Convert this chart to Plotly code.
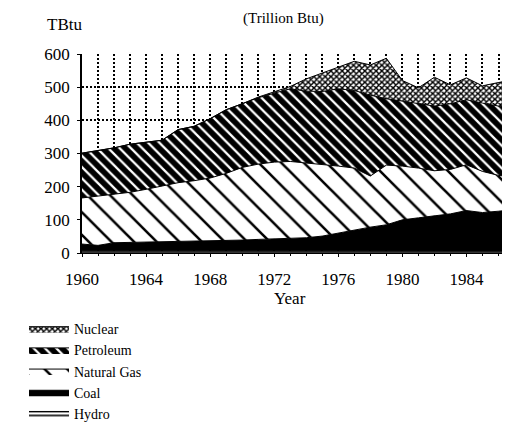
import plotly.graph_objects as go

years = list(range(1960, 1988))
hydro = [7, 7, 7, 8, 7, 7, 8, 8, 7, 8, 8, 8, 8, 8, 8, 8, 7, 6, 8, 8, 7, 7, 8, 7, 8, 7, 7, 6]
coal = [20, 16, 24, 24, 25, 25, 25, 26, 29, 29, 31, 33, 34, 37, 38, 43, 53, 65, 70, 77,
        93, 99, 104, 111, 120, 115, 119, 125]
natural_gas = [139, 149, 146, 151, 160, 170, 179, 184, 190, 203, 219, 227, 232, 231, 226, 217,
               202, 185, 154, 180, 162, 150, 136, 134, 138, 124, 108, 97]
petroleum = [135, 136, 140, 145, 143, 138, 160, 164, 179, 192, 192, 200, 208, 219, 216, 219,
             233, 234, 244, 200, 196, 194, 195, 198, 196, 206, 209, 210]
nuclear = [0, 0, 0, 0, 0, 0, 0, 0, 0, 0, 0, 2, 4, 7, 37, 55, 65, 88, 91, 122,
           62, 48, 87, 57, 66, 52, 71, 85]

x_ticks = [1960, 1964, 1968, 1972, 1976, 1980, 1984]
y_ticks = [0, 100, 200, 300, 400, 500, 600]

W, H = 510, 424
L, R, T, B = 74, 507, 46, 258
FONT = "Liberation Serif"

def px_x(p):
    return (p - L) / (R - L)

def px_y(p):
    return (B - p) / (B - T)

series = [
    ("Hydro", hydro, dict(shape="-", bgcolor="white", fgcolor="black", size=4, solidity=0.4)),
    ("Coal", coal, None),
    ("Natural Gas", natural_gas, dict(shape="\\", bgcolor="white", fgcolor="black", size=16, solidity=0.16)),
    ("Petroleum", petroleum, dict(shape="\\", bgcolor="black", fgcolor="white", size=8, solidity=0.28)),
    ("Nuclear", nuclear, dict(shape="x", bgcolor="white", fgcolor="black", size=4, solidity=0.6)),
]

fig = go.Figure()
for name, vals, pat in series:
    kw = dict(x=years, y=vals, name=name, mode="lines", stackgroup="one",
              line=dict(color="black", width=1))
    if pat is None:
        kw["fillcolor"] = "black"
    else:
        kw["fillcolor"] = pat["bgcolor"]
        kw["fillpattern"] = dict(pat, fgopacity=1)
    fig.add_trace(go.Scatter(**kw))

fig.update_layout(
    width=W, height=H,
    margin=dict(l=L, r=W - R, t=T, b=H - B, pad=0),
    paper_bgcolor="white", plot_bgcolor="white",
    font=dict(family=FONT, size=17, color="black"),
    showlegend=True,
    legend=dict(x=px_x(16), y=px_y(322), xanchor="left", yanchor="top",
                traceorder="reversed", bgcolor="rgba(0,0,0,0)",
                font=dict(family=FONT, size=14, color="black"),
                itemwidth=40, tracegroupgap=0),
    xaxis=dict(range=[1960, 1987.03], tickvals=x_ticks, showgrid=True,
               gridcolor="black", griddash="2px,2px", gridwidth=1.5,
               minor=dict(dtick=1, tick0=1960, showgrid=True, gridcolor="black",
                          griddash="2px,2px", gridwidth=1.5, ticks="outside",
                          ticklen=2, tickcolor="black"),
               ticks="outside", ticklen=3, tickcolor="black",
               showline=True, linecolor="black", linewidth=1, zeroline=False,
               tickfont=dict(family=FONT, size=17), ticklabelstandoff=8),
    yaxis=dict(range=[0, 600], tickvals=y_ticks, showgrid=True,
               gridcolor="black", griddash="2px,2px", gridwidth=1.5,
               ticks="outside", ticklen=3, tickcolor="black",
               showline=True, linecolor="black", linewidth=1.5, zeroline=False,
               tickfont=dict(family=FONT, size=17), ticklabelstandoff=4),
    annotations=[
        dict(text="(Trillion Btu)", x=px_x(275), y=px_y(8), xref="paper", yref="paper",
             showarrow=False, xanchor="center", yanchor="middle",
             font=dict(family=FONT, size=15)),
        dict(text="TBtu", x=px_x(37), y=px_y(15), xref="paper", yref="paper",
             showarrow=False, xanchor="left", yanchor="middle",
             font=dict(family=FONT, size=17)),
        dict(text="Year", x=px_x(282), y=px_y(307), xref="paper", yref="paper",
             showarrow=False, xanchor="center", yanchor="middle",
             font=dict(family=FONT, size=17)),
    ],
)

fig.write_html("out.html")
